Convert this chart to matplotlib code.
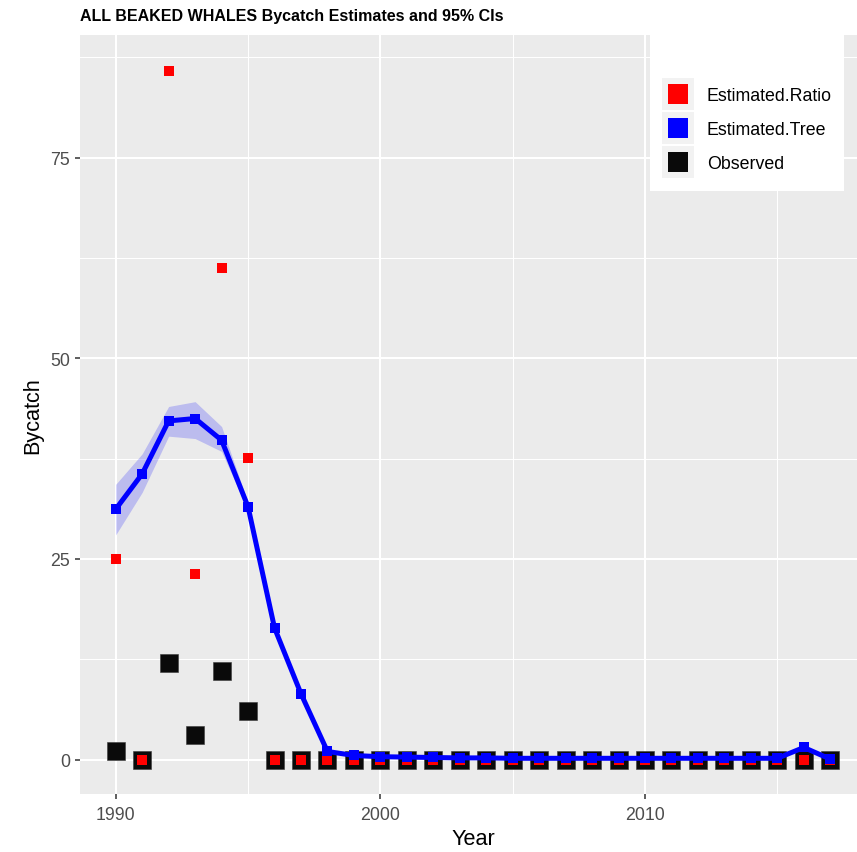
import matplotlib
matplotlib.use("Agg")
import matplotlib.pyplot as plt
from matplotlib.lines import Line2D
from matplotlib.patches import Rectangle
from matplotlib.legend_handler import HandlerTuple
from matplotlib.ticker import MultipleLocator

plt.rcParams['font.family'] = ['Liberation Sans', 'DejaVu Sans']

years = list(range(1990, 2018))
observed = [1, 0, 12, 3, 11, 6] + [0] * 22
ratio = [25.0, 0, 85.8, 23.1, 61.2, 37.6] + [0] * 22
tree = [31.2, 35.6, 42.2, 42.5, 39.8, 31.5, 16.4, 8.2, 1.0, 0.5,
        0.35, 0.3, 0.25, 0.2, 0.2, 0.15, 0.15, 0.15, 0.15, 0.15,
        0.15, 0.15, 0.15, 0.15, 0.15, 0.15, 1.5, 0.05]
tree_lo = [28.0, 33.3, 40.3, 40.0, 38.4, 31.0, 16.0, 7.9, 0.9, 0.4,
           0.3, 0.25, 0.2, 0.15, 0.15, 0.1, 0.1, 0.1, 0.1, 0.1,
           0.1, 0.1, 0.1, 0.1, 0.1, 0.1, 1.3, 0.0]
tree_hi = [34.3, 38.1, 44.0, 44.6, 41.5, 32.0, 16.8, 8.5, 1.1, 0.6,
           0.4, 0.35, 0.3, 0.25, 0.25, 0.2, 0.2, 0.2, 0.2, 0.2,
           0.2, 0.2, 0.2, 0.2, 0.2, 0.2, 1.7, 0.1]
series_names = ["Estimated.Ratio", "Estimated.Tree", "Observed"]
series_colors = ["#ff0000", "#0000ff", "#0a0a0a"]


class KeyHandler(HandlerTuple):
    """Stacked legend key (grey tile + coloured square), nudged down a little."""

    def create_artists(self, legend, orig_handle, xdescent, ydescent,
                       width, height, fontsize, trans):
        return super().create_artists(legend, orig_handle, xdescent,
                                      ydescent + 5.8, width, height,
                                      fontsize, trans)


W, H = 857, 853
fig = plt.figure(figsize=(W / 100, H / 100), dpi=100)
fig.patch.set_facecolor("white")

left, right, top, bottom = 80, 866, 36, 795
ax = fig.add_axes([left / W, 1 - bottom / H, (right - left) / W, (bottom - top) / H])
ax.set_facecolor("#ebebeb")
for s in ax.spines.values():
    s.set_visible(False)

ax.set_xlim(1988.65, 2018.35)
ax.set_ylim(-4.3, 90.3)
ax.xaxis.set_major_locator(MultipleLocator(10))
ax.xaxis.set_minor_locator(MultipleLocator(5))
ax.yaxis.set_major_locator(MultipleLocator(25))
ax.yaxis.set_minor_locator(MultipleLocator(12.5))
ax.grid(which="major", color="white", linewidth=1.5)
ax.grid(which="minor", color="white", linewidth=0.75)
ax.set_axisbelow(True)
ax.tick_params(which="major", length=3.3, width=1.1, color="#333333",
               labelcolor="#4d4d4d", labelsize=12.8, pad=4)
ax.tick_params(axis="x", which="major", pad=5)
ax.tick_params(which="minor", length=0)

# confidence band for the tree estimate
ax.fill_between(years, tree_lo, tree_hi, color="#0000ff", alpha=0.2, linewidth=0, zorder=1)

ax.plot(years, observed, linestyle="none", marker="s", markersize=13,
        color=series_colors[2], markeredgecolor="#3a3a3a", markeredgewidth=0.4, zorder=2)
ax.plot(years, ratio, linestyle="none", marker="s", markersize=7,
        color=series_colors[0], markeredgewidth=0, zorder=3)
ax.plot(years, tree, linestyle="-", linewidth=3.6, marker="s", markersize=7.5,
        color=series_colors[1], markeredgewidth=0, zorder=4)

ax.set_xlabel("Year", fontsize=15.6, color="black", labelpad=4)
ax.set_ylabel("Bycatch", fontsize=15.6, color="black", labelpad=5)

fig.text(left / W, 1 - 21 / H, "ALL BEAKED WHALES Bycatch Estimates and 95% CIs",
         fontsize=11.5, fontweight="bold", ha="left", va="baseline")

# legend panel
ax.add_patch(Rectangle((650 / W, 1 - 192 / H), 194 / W, 156 / H,
                       transform=fig.transFigure, facecolor="white",
                       edgecolor="none", zorder=5, clip_on=False))
handles = [(Line2D([], [], linestyle="none", marker="s", markersize=23,
                   color="#f2f2f2", markeredgewidth=0),
            Line2D([], [], linestyle="none", marker="s", markersize=14,
                   color=c, markeredgewidth=0)) for c in series_colors]
leg = ax.legend(handles, series_names,
                handler_map={tuple: KeyHandler(ndivide=1, pad=0)},
                loc="upper left", bbox_to_anchor=(662 / W, 1 - 80 / H),
                bbox_transform=fig.transFigure, frameon=False, fontsize=12.8,
                handlelength=1.8, handleheight=2.39, labelspacing=0.11,
                handletextpad=0.73, borderpad=0, borderaxespad=0)
leg.set_zorder(6)

fig.savefig("out.png", dpi=100)
